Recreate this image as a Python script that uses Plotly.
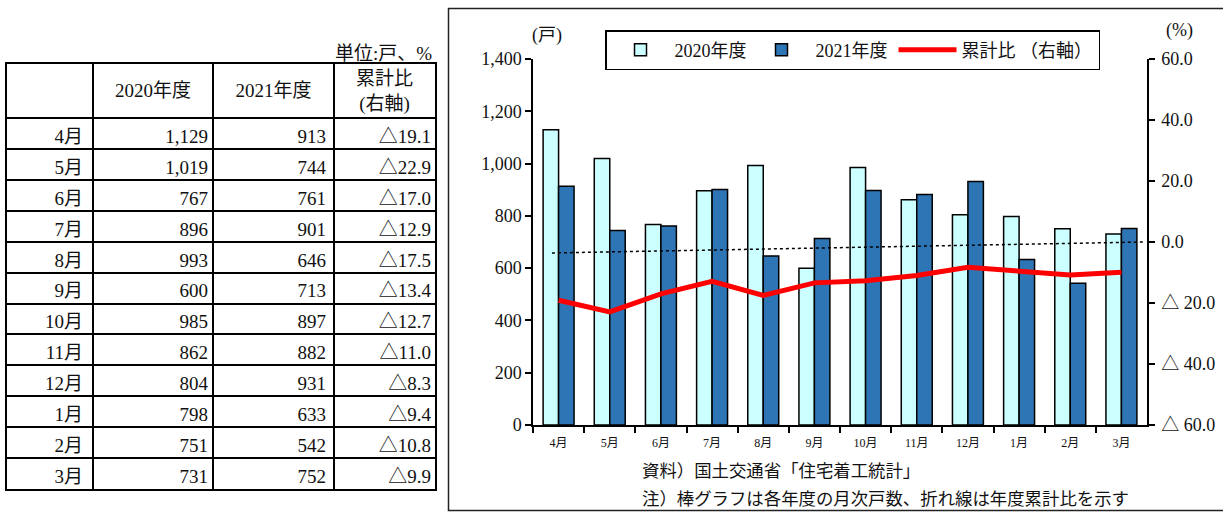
import plotly.graph_objects as go

# 新設住宅着工戸数（月次）と年度累計比
months = ["4月", "5月", "6月", "7月", "8月", "9月", "10月", "11月", "12月", "1月", "2月", "3月"]
units_2020 = [1129, 1019, 767, 896, 993, 600, 985, 862, 804, 798, 751, 731]
units_2021 = [913, 744, 761, 901, 646, 713, 897, 882, 931, 633, 542, 752]
cum_ratio = [-19.1, -22.9, -17.0, -12.9, -17.5, -13.4, -12.7, -11.0, -8.3, -9.4, -10.8, -9.9]

# 右軸の基準点線（両端の値）
ref_x = [-0.13, 11.45]
ref_y = [-3.6, 0.0]

left_ticks = [0, 200, 400, 600, 800, 1000, 1200, 1400]
right_ticks = [-60, -40, -20, 0, 20, 40, 60]
right_ticktext = ["△ 60.0", "△ 40.0", "△ 20.0", "0.0", "20.0", "40.0", "60.0"]

table_header = ["2020年度", "2021年度", "累計比<br>(右軸)"]

W, H = 1223, 512
FONT = "'Liberation Serif', 'Noto Sans CJK JP', serif"
CJK = "'Noto Sans CJK JP', 'Liberation Serif', sans-serif"


def px(x):
    return x / W


def py(y):
    return 1 - y / H


def fmt_ratio(v):
    return f"△{abs(v):.1f}" if v < 0 else f"{v:.1f}"


fig = go.Figure()

# ---- 表（x3/y3 軸上に罫線と文字を配置）----
col_edges = [0, 86, 206, 327, 428]      # 列境界（x3 の座標）
col_pad = [10, 5, 8, 4]                  # 右寄せ時の余白
head_h = 54 / 30.9                       # 見出し行の高さ（行単位）
n_rows = len(months)
row_y = [i + 0.5 + 0.15 for i in range(n_rows)]

table_cols = [
    months,
    [f"{v:,}" for v in units_2020],
    [f"{v:,}" for v in units_2021],
    [fmt_ratio(v) for v in cum_ratio],
]
for ci, col in enumerate(table_cols):
    fig.add_trace(go.Scatter(
        x=[col_edges[ci + 1] - col_pad[ci]] * n_rows, y=row_y, text=col,
        mode="text", textposition="middle left", xaxis="x3", yaxis="y3",
        textfont=dict(family=FONT, size=19, color="#111"),
        showlegend=False, hoverinfo="skip", cliponaxis=False,
    ))
fig.add_trace(go.Scatter(
    x=[(col_edges[i + 1] + col_edges[i + 2]) / 2 for i in range(3)],
    y=[-head_h / 2 + 0.05] * 3, text=table_header,
    mode="text", textposition="middle center", xaxis="x3", yaxis="y3",
    textfont=dict(family=FONT, size=19, color="#111"),
    showlegend=False, hoverinfo="skip", cliponaxis=False,
))

# ---- 棒グラフ ----
fig.add_trace(go.Bar(
    x=months, y=units_2020, name="2020年度", legendwidth=68,
    marker=dict(color="#CCFFFF", line=dict(color="black", width=1.5)),
))
fig.add_trace(go.Bar(
    x=months, y=units_2021, name="2021年度", legendwidth=73,
    marker=dict(color="#2E75B6", line=dict(color="black", width=1.5)),
))

# ---- 年度累計比（右軸）----
fig.add_trace(go.Scatter(
    x=months, y=cum_ratio, name="累計比 （右軸）", yaxis="y2", legendwidth=132,
    mode="lines", line=dict(color="#FF0000", width=5),
))

# ---- 基準点線 ----
fig.add_trace(go.Scatter(
    x=ref_x, y=ref_y, xaxis="x2", yaxis="y2", mode="lines",
    line=dict(color="black", width=1.5, dash="dot"), showlegend=False,
    hoverinfo="skip",
))

xdom = [px(533), px(1147)]
ydom = [py(425), py(59)]

axis_tick = dict(ticks="outside", ticklen=6, tickwidth=1.5, tickcolor="black",
                 showline=True, linecolor="black", linewidth=1.5,
                 showgrid=False, zeroline=False)

fig.update_layout(
    width=W, height=H, autosize=False,
    margin=dict(l=0, r=0, t=0, b=0, autoexpand=False),
    paper_bgcolor="white", plot_bgcolor="white",
    font=dict(family=FONT, size=18, color="#111"),
    barmode="group", bargap=0.395, bargroupgap=0,
    showlegend=True,
    legend=dict(
        orientation="h", x=px(605), y=py(30), xanchor="left", yanchor="top",
        bordercolor="black", borderwidth=1.5, bgcolor="white",
        font=dict(family=FONT, size=18, color="#111"),
        itemwidth=58, traceorder="normal",
    ),
    xaxis=dict(
        domain=xdom, type="category", tickson="boundaries", ticklabelstandoff=6,
        tickfont=dict(family=FONT, size=12), anchor="y", **axis_tick,
    ),
    xaxis2=dict(
        domain=xdom, overlaying="x", range=[-0.5, 11.5], visible=False,
        anchor="y2",
    ),
    yaxis=dict(
        domain=ydom, range=[0, 1400], tickvals=left_ticks, tickformat=",d",
        tickfont=dict(family=FONT, size=18), anchor="x", **axis_tick,
    ),
    yaxis2=dict(
        domain=ydom, range=[-60, 60], overlaying="y", side="right", anchor="x",
        tickvals=right_ticks, ticktext=right_ticktext, ticklabelstandoff=3,
        tickfont=dict(family=FONT, size=18), **axis_tick,
    ),
    xaxis3=dict(
        domain=[px(7), px(435)], range=[col_edges[0], col_edges[-1]], anchor="y3",
        tickvals=col_edges[1:-1], showticklabels=False, ticks="",
        showgrid=True, gridcolor="black", gridwidth=2, zeroline=False,
        showline=True, mirror=True, linecolor="black", linewidth=2,
    ),
    yaxis3=dict(
        domain=[py(489), py(64)], range=[n_rows, -head_h], anchor="x3",
        tickvals=list(range(0, n_rows)), showticklabels=False, ticks="",
        showgrid=True, gridcolor="black", gridwidth=2, zeroline=False,
        showline=True, mirror=True, linecolor="black", linewidth=2,
    ),
)

annotations = [
    dict(text="単位:戸、%", x=px(434), y=py(53), xanchor="right", yanchor="middle",
         font=dict(family=FONT, size=19)),
    dict(text="(戸)", x=px(547), y=py(35), xanchor="center", yanchor="middle",
         font=dict(family=FONT, size=18)),
    dict(text="(%)", x=px(1179), y=py(30), xanchor="center", yanchor="middle",
         font=dict(family=FONT, size=18)),
    dict(text="資料）国土交通省「住宅着工統計」", x=px(640), y=py(469),
         xanchor="left", yanchor="middle", font=dict(family=CJK, size=17.4)),
    dict(text="注）棒グラフは各年度の月次戸数、折れ線は年度累計比を示す", x=px(640), y=py(497),
         xanchor="left", yanchor="middle", font=dict(family=CJK, size=17.4)),
]
for a in annotations:
    a.update(xref="paper", yref="paper", showarrow=False)
fig.update_layout(annotations=annotations)

# グラフ外枠
fig.add_shape(type="rect", xref="paper", yref="paper",
              x0=px(448.5), x1=px(1235), y0=py(510.5), y1=py(8.5),
              line=dict(color="#222", width=1.5), fillcolor="rgba(0,0,0,0)", layer="below")

fig.write_html("out.html")
